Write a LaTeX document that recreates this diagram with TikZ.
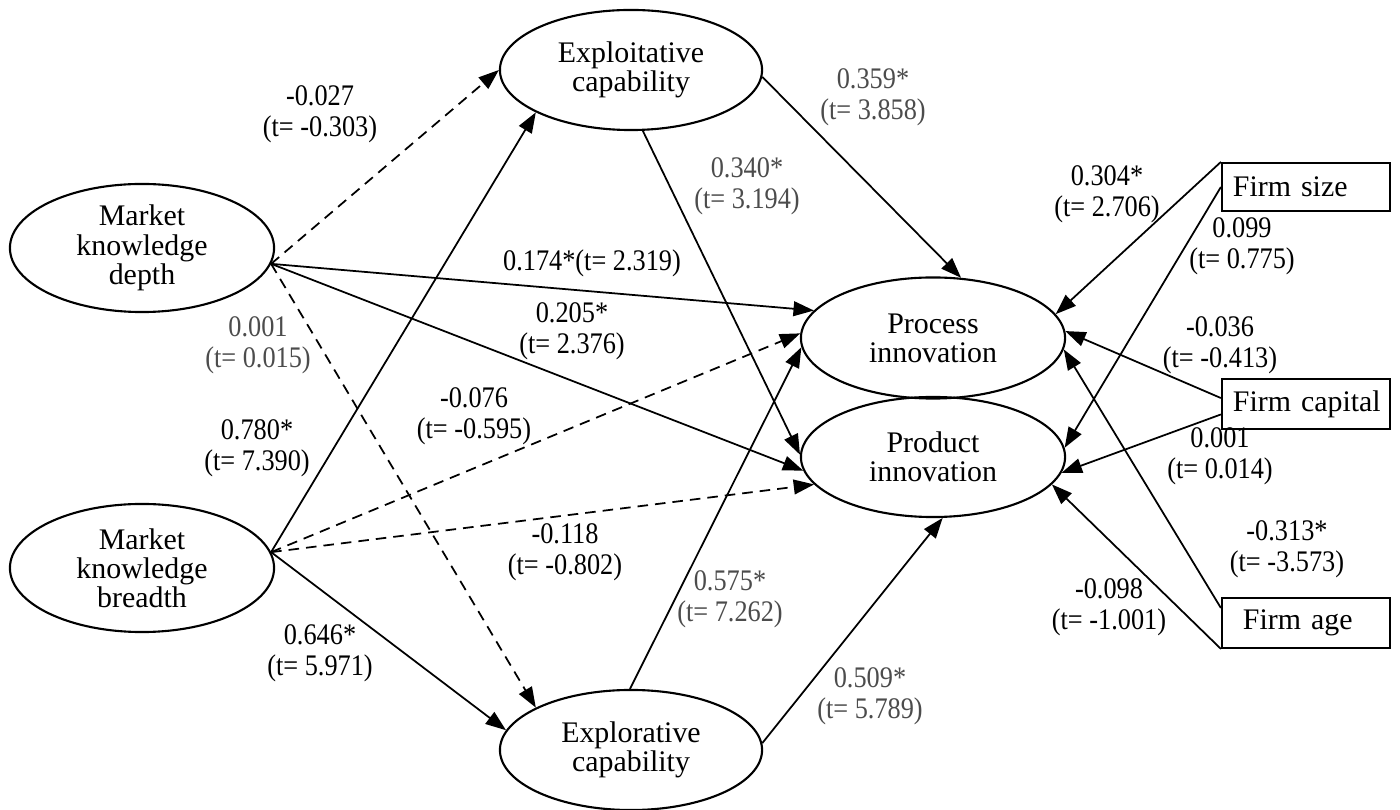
\documentclass[tikz,border=0pt]{standalone}
\usepackage{fontspec}
\setmainfont{Liberation Serif}
\newfontfamily\estfont[FakeStretch=0.88]{Liberation Serif}
\usetikzlibrary{shapes.geometric,arrows.meta}
\begin{document}
\begin{tikzpicture}[x=0.01cm,y=-0.01cm,
  every node/.style={font=\fontsize{8.5}{8.3}\selectfont},
  lv/.style={draw,ellipse,line width=0.6pt,minimum width=2.64cm,minimum height=1.28cm,inner sep=0pt,align=center},
  ctrl/.style={draw,rectangle,line width=0.6pt,minimum width=1.68cm,minimum height=0.48cm,inner xsep=0.04cm,text width=1.6cm,align=left,execute at begin node={\hspace*{0.07cm}}},
  arr/.style={-{Triangle[length=5.8pt,width=4.2pt]},line width=0.5pt},
  ns/.style={arr,dash pattern=on 3pt off 2pt},
  est/.style={align=center,inner sep=1pt,font=\estfont\fontsize{8.5}{8.9}\selectfont},
  gr/.style={est,text=black!70}]
\useasboundingbox (0,0) rectangle (1400,810);
% latent constructs
\node[lv] (mkd) at (142,248) {Market\\knowledge\\depth};
\node[lv] (mkb) at (142,568) {Market\\knowledge\\breadth};
\node[lv,minimum width=2.62cm,minimum height=1.2cm] (exploit) at (631,70) {Exploitative\\capability};
\node[lv,minimum width=2.62cm,minimum height=1.2cm] (explore) at (631,750) {Explorative\\capability};
\node[lv,minimum height=1.21cm] (proc) at (933,338) {Process\\innovation};
\node[lv,minimum height=1.2cm] (prod) at (933,457) {Product\\innovation};
% controls
\node[ctrl] (size) at (1306,187) {Firm size};
\node[ctrl] (capital) at (1306,404) {Firm capital};
\node[ctrl] (age) at (1306,623) {\hspace*{0.1cm}Firm age};
% paths from market knowledge depth
\draw[ns] (mkd.-7) -- (exploit.180);
\draw[ns] (mkd.-7) -- (explore.156);
\draw[arr] (mkd.-7) -- (proc.167);
\draw[arr] (mkd.-7) -- (prod.186);
% paths from market knowledge breadth
\draw[arr] (mkb.7) -- (exploit.204);
\draw[ns] (mkb.7) -- (proc.178);
\draw[ns] (mkb.7) -- (prod.193);
\draw[arr] (mkb.7) -- (explore.171);
% capabilities to innovation
\draw[arr] (exploit.-3) -- (proc.65);
\draw[arr] (exploit.-79) -- (prod.179);
\draw[arr] (explore.91) -- (proc.184);
\draw[arr] (explore.3) -- (prod.-81);
% control paths
\draw[arr] (size.north west) -- (proc.11);
\draw[arr] (size.west) -- (prod.4);
\draw[arr] (capital.176) -- (proc.3);
\draw[arr] (capital.187) -- (prod.-7);
\draw[arr] (age.170) -- (proc.-5);
\draw[arr] (age.south west) -- (prod.-13);
% estimates
\node[est] (e1) at (320,114) {-0.027\\(t= -0.303)};
\node[gr] (e2) at (258,345) {0.001\\(t= 0.015)};
\node[est] (e3) at (592,263) {0.174*(t= 2.319)};
\node[est] (e4) at (572,331) {0.205*\\(t= 2.376)};
\node[est] (e5) at (257,448) {0.780*\\(t= 7.390)};
\node[est] (e6) at (474,416) {-0.076\\(t= -0.595)};
\node[est] (e7) at (565,552) {-0.118\\(t= -0.802)};
\node[est] (e8) at (320,653) {0.646*\\(t= 5.971)};
\node[gr] (e9) at (873,97) {0.359*\\(t= 3.858)};
\node[gr] (e10) at (747,186) {0.340*\\(t= 3.194)};
\node[gr] (e11) at (730,599) {0.575*\\(t= 7.262)};
\node[gr] (e12) at (870,696) {0.509*\\(t= 5.789)};
\node[est] (e13) at (1107,194) {0.304*\\(t= 2.706)};
\node[est] (e14) at (1242,246) {0.099\\(t= 0.775)};
\node[est] (e15) at (1220,345) {-0.036\\(t= -0.413)};
\node[est] (e16) at (1220,456) {0.001\\(t= 0.014)};
\node[est] (e17) at (1287,549) {-0.313*\\(t= -3.573)};
\node[est] (e18) at (1109,607) {-0.098\\(t= -1.001)};
\end{tikzpicture}
\end{document}
